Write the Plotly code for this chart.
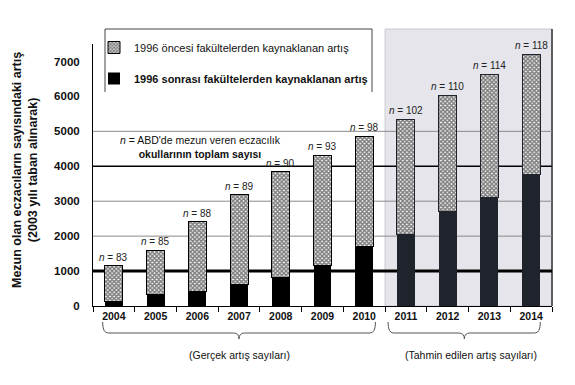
import plotly.graph_objects as go

years = ["2004", "2005", "2006", "2007", "2008", "2009", "2010", "2011", "2012", "2013", "2014"]
sonrasi = [130, 330, 420, 620, 830, 1150, 1690, 2050, 2710, 3110, 3770]
oncesi = [1020, 1270, 1990, 2560, 3010, 3170, 3170, 3290, 3330, 3530, 3430]
n_okul = [83, 85, 88, 89, 90, 93, 98, 102, 110, 114, 118]
y_ticks = [0, 1000, 2000, 3000, 4000, 5000, 6000, 7000]

FONT = "Arial, Liberation Sans, sans-serif"
W, H = 575, 385
ML, MR, MT, MB = 93, 23, 44, 79
PW, PH = W - ML - MR, H - MT - MB
NC = len(years)


def px_x(px):
    return (px - ML) / PW


def px_y(py):
    return (H - MB - py) / PH


def cat_x(idx):
    return (idx + 0.5) / NC


dark_cols = ["#000000"] * 7 + ["#1f232c"] * 4
chk_line = ["#000000"] * 7 + ["#1f232c"] * 4

fig = go.Figure()
fig.add_trace(go.Bar(
    x=years, y=sonrasi, name="<b>1996 sonrası fakültelerden kaynaklanan artış</b>",
    marker=dict(color=dark_cols, line=dict(width=0)), legendgroup="b", legendrank=2, width=0.43,
))
fig.add_trace(go.Bar(
    x=years, y=oncesi, name="1996 öncesi fakültelerden kaynaklanan artış",
    marker=dict(color="white", line=dict(color=chk_line, width=1),
                pattern=dict(shape="x", fgcolor="black", bgcolor="white", size=3, solidity=0.75)),
    legendgroup="a", legendrank=1, width=0.43,
))

totals = [a + b for a, b in zip(sonrasi, oncesi)]
annotations = []
for i, (t, n) in enumerate(zip(totals, n_okul)):
    annotations.append(dict(x=i, y=t, xref="x", yref="y", text=f"<i>n</i> = {n}",
                            showarrow=False, yanchor="bottom", xanchor="center", yshift=1,
                            font=dict(family=FONT, size=10, color="#222")))

annotations.append(dict(xref="paper", yref="paper", x=px_x(200), y=px_y(147), xanchor="center",
                        yanchor="middle",
                        text="<i>n</i> = ABD'de mezun veren eczacılık<br><b>okullarının toplam sayısı</b>",
                        showarrow=False, align="center", font=dict(family=FONT, size=10.5, color="#111")))
annotations.append(dict(xref="paper", yref="paper", x=px_x(25), y=px_y(170), xanchor="center",
                        yanchor="middle",
                        text="<b>Mezun olan eczacıların sayısındaki artış<br>(2003 yılı taban alınarak)</b>",
                        textangle=-90, showarrow=False, align="center",
                        font=dict(family=FONT, size=12.5, color="#111")))
annotations.append(dict(xref="paper", yref="paper", x=cat_x(3), y=px_y(355), xanchor="center",
                        yanchor="middle",
                        text="(Gerçek artış sayıları)", showarrow=False,
                        font=dict(family=FONT, size=10.5, color="#111")))
annotations.append(dict(xref="paper", yref="paper", x=cat_x(8.5) + 0.005, y=px_y(355), xanchor="center",
                        yanchor="middle",
                        text="(Tahmin edilen artış sayıları)", showarrow=False,
                        font=dict(family=FONT, size=10.5, color="#111")))

shapes = []
# forecast shaded region
shapes.append(dict(type="rect", xref="paper", yref="paper", x0=cat_x(6.5), x1=1.0,
                   y0=0, y1=px_y(29), fillcolor="#e5e5eb", line=dict(color="#c8c8d0", width=1),
                   layer="below"))
shapes.append(dict(type="line", xref="paper", yref="paper", x0=1.0, x1=1.0,
                   y0=0, y1=px_y(29), line=dict(color="#333", width=1.5), layer="below"))
# grid lines
for v in [2000, 3000, 5000]:
    shapes.append(dict(type="line", xref="paper", yref="y", x0=0, x1=1, y0=v, y1=v,
                       line=dict(color="#8a8a8a", width=1), layer="below"))
shapes.append(dict(type="line", xref="paper", yref="y", x0=0, x1=1, y0=4000, y1=4000,
                   line=dict(color="#000", width=1.5), layer="below"))
shapes.append(dict(type="line", xref="paper", yref="y", x0=0, x1=1, y0=1000, y1=1000,
                   line=dict(color="#000", width=3), layer="below"))
# legend box (open at the bottom)
lx0, lx1, ly0, ly1 = px_x(105), px_x(372), px_y(29), px_y(92)
shapes.append(dict(type="path", xref="paper", yref="paper",
                   path=f"M {lx0},{ly1} L {lx0},{ly0} L {lx1},{ly0} L {lx1},{ly1}",
                   line=dict(color="#444", width=1)))


def brace(xa, xb, xt, yt, ym, yb):
    d = 0.012
    return (f"M {xa},{yt} Q {xa},{ym} {xa + d},{ym} L {xt - d},{ym} Q {xt},{ym} {xt},{yb} "
            f"Q {xt},{ym} {xt + d},{ym} L {xb - d},{ym} Q {xb},{ym} {xb},{yt}")


yt, ym, yb = px_y(322), px_y(333), px_y(339)
shapes.append(dict(type="path", xref="paper", yref="paper",
                   path=brace(cat_x(-0.27), cat_x(6.27), cat_x(3), yt, ym, yb),
                   line=dict(color="#555", width=1)))
shapes.append(dict(type="path", xref="paper", yref="paper",
                   path=brace(cat_x(6.57), cat_x(10.22), cat_x(8.4), yt, ym, yb),
                   line=dict(color="#555", width=1)))

fig.update_layout(
    width=W, height=H, margin=dict(l=ML, r=MR, t=MT, b=MB, autoexpand=False),
    barmode="stack", plot_bgcolor="rgba(0,0,0,0)", paper_bgcolor="white",
    font=dict(family=FONT, color="#111"),
    showlegend=True,
    legend=dict(x=px_x(94), y=px_y(33), xanchor="left", yanchor="top", itemwidth=30,
                bgcolor="rgba(0,0,0,0)", traceorder="grouped", tracegroupgap=12,
                font=dict(family=FONT, size=11, color="#111")),
    annotations=annotations, shapes=shapes,
    xaxis=dict(type="category", range=[-0.5, NC - 0.5], showline=True, linecolor="#000", linewidth=1,
               ticks="outside", tickson="boundaries", automargin=False,
               ticklen=5, tickcolor="#000", showgrid=False,
               tickfont=dict(family=FONT, size=10.5, color="#111"), tickprefix="<b>", ticksuffix="</b>"),
    yaxis=dict(range=[0, 7500], tickvals=y_ticks, ticktext=[f"<b>{v}</b>" for v in y_ticks],
               showgrid=False, zeroline=False, showline=True, linecolor="#000", linewidth=1,
               ticks="", ticklabelstandoff=10, automargin=False,
               tickfont=dict(family=FONT, size=11.5, color="#111")),
)

fig.write_html("out.html", config={"displayModeBar": False},
               post_script="document.body.style.margin='0';")
